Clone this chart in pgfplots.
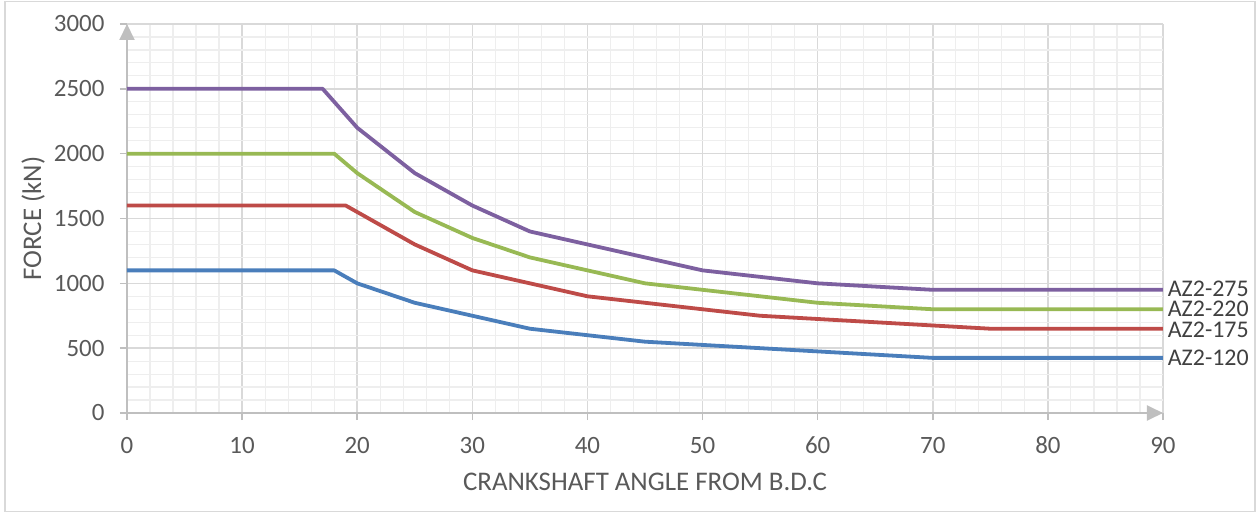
\documentclass[border=0pt]{standalone}
\usepackage{fontspec}
\setmainfont{Carlito}
\usepackage{pgfplots}
\pgfplotsset{compat=1.18}
\usetikzlibrary{arrows.meta}
\definecolor{txt}{HTML}{595959}
\definecolor{lbl}{HTML}{404040}
\definecolor{gmaj}{HTML}{D9D9D9}
\definecolor{gmin}{HTML}{EEEEEE}
\definecolor{axc}{HTML}{BFBFBF}
\definecolor{cblue}{HTML}{4A7EBB}
\definecolor{cred}{HTML}{BE4B48}
\definecolor{cgreen}{HTML}{98B954}
\definecolor{cpurple}{HTML}{7D60A0}
\begin{document}
\begin{tikzpicture}[x=1bp,y=1bp]
\useasboundingbox (-127bp,-105bp) rectangle (1132bp,413bp);
\draw[gmaj, line width=1.5bp] (-122bp,-98.5bp) rectangle (1128bp,411.5bp);
\begin{axis}[
  at={(0,0)}, anchor=south west,
  scale only axis, width=1036bp, height=389bp,
  xmin=0, xmax=90, ymin=0, ymax=3000,
  enlargelimits=false,
  xtick={0,10,...,90}, ytick={0,500,...,3000},
  minor x tick num=4, minor y tick num=4,
  grid=both,
  major grid style={gmaj, line width=1.5bp},
  minor grid style={gmin, line width=1.2bp},
  axis x line=bottom, axis y line=left,
  axis line style={axc, line width=2bp},
  x axis line style={-{Triangle[length=16bp,width=15bp]}},
  y axis line style={-{Triangle[length=16bp,width=15bp]}},
  tick align=outside,
  major tick length=7bp, minor tick length=0bp,
  tick style={axc, line width=1.5bp},
  /pgf/number format/assume math mode=true,
  /pgf/number format/1000 sep={},
  tick label style={font=\fontsize{25}{28}\selectfont, text=txt},
  xticklabel style={anchor=base, yshift=-33bp},
  yticklabel style={anchor=east, xshift=-12bp},
  xlabel={CRANKSHAFT ANGLE FROM B.D.C},
  ylabel={FORCE (kN)},
  label style={font=\fontsize{27}{30}\selectfont, text=txt},
  xlabel style={at={(axis description cs:0.5,-0.1774)}, anchor=center},
  ylabel style={at={(axis description cs:-0.0907,0.5)}, anchor=center},
  every axis plot/.append style={line width=3.8bp, line join=round},
  clip=false,
]
\addplot[cpurple] coordinates {(0,2500)(17,2500)(20,2200)(25,1850)(30,1600)(35,1400)(40,1300)(45,1200)(50,1100)(55,1050)(60,1000)(65,975)(70,950)(75,950)(80,950)(85,950)(90,950)}
  node[pos=1, anchor=west, font=\fontsize{24}{26}\selectfont, text=lbl, inner sep=0pt, xshift=3bp, yshift=1bp] {AZ2-275};
\addplot[cgreen] coordinates {(0,2000)(18,2000)(20,1850)(25,1550)(30,1350)(35,1200)(40,1100)(45,1000)(50,950)(55,900)(60,850)(65,825)(70,800)(75,800)(80,800)(85,800)(90,800)}
  node[pos=1, anchor=west, font=\fontsize{24}{26}\selectfont, text=lbl, inner sep=0pt, xshift=3bp] {AZ2-220};
\addplot[cred] coordinates {(0,1600)(19,1600)(20,1550)(25,1300)(30,1100)(35,1000)(40,900)(45,850)(50,800)(55,750)(60,725)(65,700)(70,675)(75,650)(80,650)(85,650)(90,650)}
  node[pos=1, anchor=west, font=\fontsize{24}{26}\selectfont, text=lbl, inner sep=0pt, xshift=3bp, yshift=-1bp] {AZ2-175};
\addplot[cblue] coordinates {(0,1100)(18,1100)(20,1000)(25,850)(30,750)(35,650)(40,600)(45,550)(50,525)(55,500)(60,475)(65,450)(70,425)(75,425)(80,425)(85,425)(90,425)}
  node[pos=1, anchor=west, font=\fontsize{24}{26}\selectfont, text=lbl, inner sep=0pt, xshift=3bp] {AZ2-120};
\end{axis}
\end{tikzpicture}
\end{document}
